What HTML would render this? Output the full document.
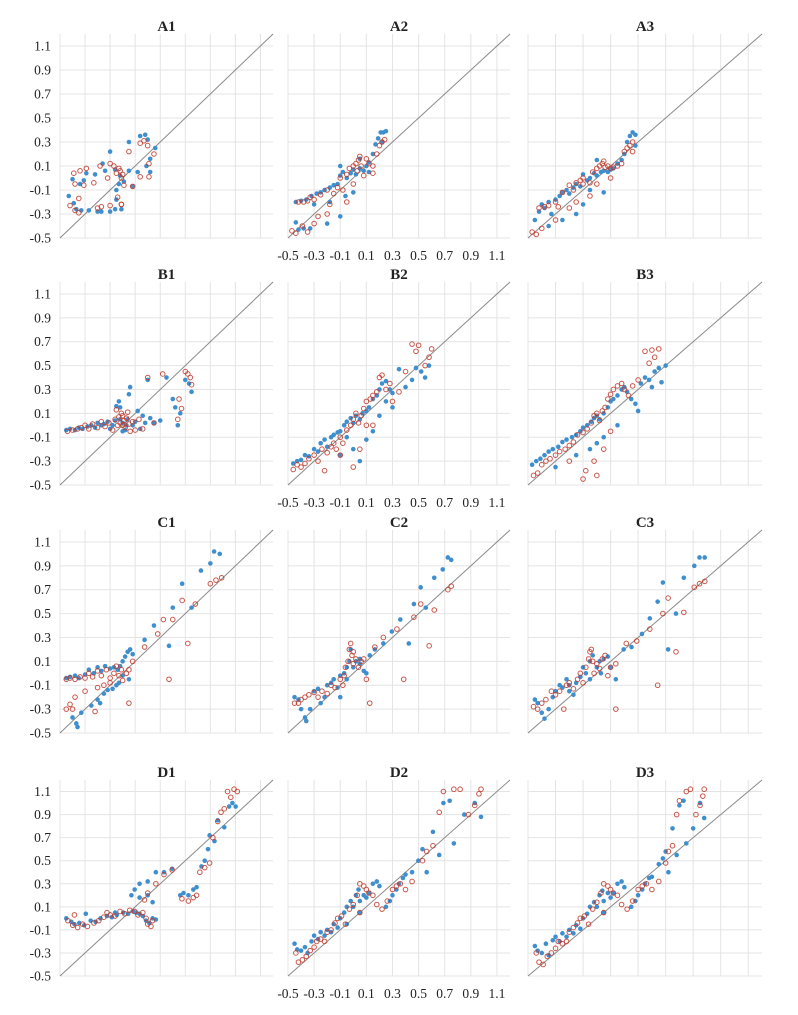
<!DOCTYPE html>
<html><head><meta charset="utf-8"><style>
html,body{margin:0;padding:0;background:#fff;}
svg{display:block;}
text{font-family:"Liberation Serif",serif;fill:#222;}
</style></head><body>
<svg id="chart" width="798" height="1015" viewBox="0 0 798 1015" xmlns="http://www.w3.org/2000/svg"></svg>
<script>
const ticks = [-0.5,-0.3,-0.1,0.1,0.3,0.5,0.7,0.9,1.1];
const tickLabels = ["-0.5","-0.3","-0.1","0.1","0.3","0.5","0.7","0.9","1.1"];
const rowNames = ["A","B","C","D"];
const colNames = ["1","2","3"];

const A1_blue=[[-0.43,-0.15],[-0.39,-0.21],[-0.37,-0.26],[-0.33,-0.27],[-0.27,-0.27],[-0.2,-0.28],[-0.17,-0.28],[-0.1,-0.28],[-0.06,-0.26],[-0.01,-0.26],[-0.1,0.22],[0.05,0.3],[0.14,0.35],[0.18,0.36],[0.2,0.32],[0.26,0.25],[0.22,0.16],[0.19,0.1],[0.22,0.05],[0.12,0.05],[-0.16,0.12],[-0.4,-0.01],[-0.31,-0.02],[-0.22,0.03],[-0.14,0.06],[-0.06,0.07],[-0.05,-0.1],[-0.05,-0.18],[0.05,0.06],[0.08,-0.07],[0.01,-0.03],[-0.29,0.04],[-0.34,-0.05],[-0.02,0.02],[-0.03,-0.05]];
const A1_red=[[-0.42,-0.23],[-0.35,-0.17],[-0.38,-0.27],[-0.35,-0.29],[-0.2,-0.25],[-0.17,-0.24],[-0.1,-0.23],[-0.01,-0.22],[0.05,0.22],[0.14,0.29],[0.17,0.31],[0.2,0.27],[0.25,0.2],[0.21,0.12],[0.21,0.01],[0.14,0.01],[-0.1,0.12],[-0.39,0.04],[-0.34,0.06],[-0.29,0.08],[-0.18,0.1],[-0.07,0.1],[-0.03,0.08],[-0.01,0],[0.01,-0.06],[0.08,-0.07],[-0.31,-0.06],[-0.23,-0.04],[-0.12,0],[-0.04,-0.16],[-0.01,-0.22],[-0.38,-0.05],[-0.05,0.04],[-0.02,0.06],[0.0,0.03]];
const A2_blue=[[-0.44,-0.37],[-0.42,-0.43],[-0.38,-0.42],[-0.33,-0.42],[-0.44,-0.2],[-0.4,-0.19],[-0.36,-0.18],[-0.32,-0.15],[-0.28,-0.13],[-0.25,-0.12],[-0.22,-0.1],[-0.18,-0.08],[-0.15,-0.06],[-0.12,-0.05],[-0.1,0.02],[-0.08,0.05],[-0.05,0.0],[-0.02,0.04],[0.0,0.07],[0.02,0.03],[0.05,0.08],[0.08,0.06],[0.1,0.1],[0.12,0.13],[0.15,0.2],[0.17,0.28],[0.19,0.33],[0.21,0.38],[0.23,0.38],[0.25,0.39],[0.22,0.3],[-0.1,-0.32],[-0.2,-0.38],[-0.18,-0.2],[-0.06,-0.15],[0.0,-0.12],[-0.1,0.1],[0.05,0.16],[0.12,0.05],[-0.3,-0.22]];
const A2_red=[[-0.47,-0.44],[-0.44,-0.46],[-0.39,-0.4],[-0.35,-0.45],[-0.3,-0.38],[-0.27,-0.32],[-0.2,-0.3],[-0.42,-0.2],[-0.38,-0.2],[-0.35,-0.19],[-0.33,-0.16],[-0.3,-0.18],[-0.25,-0.14],[-0.2,-0.1],[-0.15,-0.13],[-0.12,-0.08],[-0.08,-0.1],[-0.05,0.03],[-0.03,0.08],[0.0,0.1],[0.02,0.12],[0.04,0.15],[0.05,0.18],[0.06,0.1],[0.08,0.02],[0.12,0.12],[0.15,0.1],[0.18,0.2],[0.2,0.27],[0.22,0.3],[0.24,0.32],[0.1,0.16],[-0.18,-0.22],[-0.05,-0.2],[0.0,-0.05],[0.03,0.06],[-0.1,0.0],[0.15,0.04]];
const A3_blue=[[-0.45,-0.35],[-0.42,-0.28],[-0.4,-0.22],[-0.38,-0.25],[-0.35,-0.2],[-0.33,-0.3],[-0.3,-0.18],[-0.27,-0.15],[-0.25,-0.12],[-0.22,-0.1],[-0.2,-0.13],[-0.17,-0.08],[-0.15,-0.05],[-0.12,-0.07],[-0.1,0.03],[-0.07,-0.02],[-0.05,0.0],[-0.02,0.04],[0.0,0.02],[0.03,0.05],[0.05,0.06],[0.08,0.05],[0.1,0.07],[0.12,0.08],[0.15,0.12],[0.18,0.15],[0.2,0.2],[0.22,0.3],[0.24,0.35],[0.26,0.38],[0.28,0.36],[0.28,0.27],[-0.15,-0.3],[-0.1,-0.22],[-0.25,-0.35],[-0.35,-0.4],[0.05,-0.12],[-0.05,-0.1],[0.0,0.15]];
const A3_red=[[-0.47,-0.45],[-0.44,-0.47],[-0.4,-0.42],[-0.42,-0.25],[-0.38,-0.24],[-0.35,-0.23],[-0.3,-0.2],[-0.28,-0.24],[-0.25,-0.12],[-0.2,-0.06],[-0.17,-0.1],[-0.15,-0.04],[-0.12,-0.02],[-0.1,0.0],[-0.05,-0.04],[-0.03,0.05],[0.0,0.08],[0.02,0.1],[0.04,0.12],[0.05,0.14],[0.06,0.09],[0.08,0.1],[0.1,0.08],[0.12,0.09],[0.15,0.1],[0.18,0.12],[0.2,0.22],[0.22,0.25],[0.24,0.27],[0.26,0.3],[0.26,0.22],[-0.2,-0.25],[-0.15,-0.2],[-0.05,-0.15],[-0.1,-0.05],[0.0,-0.05],[0.1,0.0],[-0.3,-0.35]];
const B1_blue=[[-0.45,-0.04],[-0.42,-0.03],[-0.38,-0.04],[-0.35,-0.02],[-0.32,-0.03],[-0.28,-0.01],[-0.25,0.0],[-0.22,-0.02],[-0.2,0.02],[-0.17,0.0],[-0.15,0.01],[-0.12,0.03],[-0.1,-0.03],[-0.08,0.0],[-0.06,0.04],[-0.05,0.16],[-0.03,0.2],[-0.02,0.15],[0.0,0.02],[0.02,-0.04],[0.04,0.05],[0.05,0.26],[0.06,0.32],[0.08,0.0],[0.1,0.03],[0.12,0.12],[0.14,-0.03],[0.16,0.08],[0.18,0.02],[0.2,0.38],[0.22,0.06],[0.25,0.02],[0.3,0.04],[0.35,0.4],[0.4,0.22],[0.42,0.15],[0.44,0.0],[0.46,0.1],[0.5,0.38],[0.53,0.35],[0.55,0.28],[0.0,-0.05],[-0.02,0.05],[0.03,0.0]];
const B1_red=[[-0.44,-0.05],[-0.4,-0.04],[-0.36,-0.03],[-0.33,-0.02],[-0.3,0.0],[-0.27,-0.03],[-0.24,0.01],[-0.2,-0.02],[-0.17,0.03],[-0.14,-0.01],[-0.11,0.02],[-0.08,-0.04],[-0.06,0.05],[-0.04,0.0],[-0.03,0.07],[-0.02,0.02],[0.0,0.08],[0.01,0.04],[0.02,-0.02],[0.03,0.06],[0.05,0.01],[0.06,-0.05],[0.08,0.03],[0.1,-0.04],[0.13,0.05],[0.16,-0.03],[0.2,0.4],[0.25,0.02],[0.32,0.43],[0.44,0.05],[0.45,0.22],[0.47,0.14],[0.5,0.45],[0.52,0.43],[0.54,0.4],[0.55,0.34],[0.0,0.0],[-0.01,0.1],[0.04,0.11],[-0.05,0.13]];
const B2_blue=[[-0.46,-0.32],[-0.43,-0.3],[-0.4,-0.29],[-0.37,-0.25],[-0.34,-0.26],[-0.3,-0.2],[-0.27,-0.22],[-0.25,-0.15],[-0.22,-0.12],[-0.2,-0.18],[-0.17,-0.1],[-0.15,-0.08],[-0.12,-0.06],[-0.1,-0.05],[-0.07,0.0],[-0.05,0.03],[-0.02,0.06],[0.0,0.02],[0.02,0.08],[0.05,0.05],[0.07,0.1],[0.1,0.12],[0.12,0.15],[0.15,0.22],[0.18,0.25],[0.2,0.3],[0.22,0.35],[0.25,0.37],[0.28,0.3],[0.3,0.27],[0.1,-0.12],[0.05,-0.3],[0.15,-0.05],[0.2,0.08],[0.25,0.2],[0.3,0.15],[0.4,0.32],[0.45,0.38],[0.48,0.48],[0.52,0.45],[0.55,0.4],[0.58,0.5],[0.0,-0.2],[-0.1,-0.25],[-0.05,-0.1],[0.35,0.47]];
const B2_red=[[-0.46,-0.37],[-0.43,-0.33],[-0.4,-0.35],[-0.37,-0.32],[-0.34,-0.28],[-0.3,-0.25],[-0.27,-0.3],[-0.24,-0.2],[-0.22,-0.38],[-0.2,-0.23],[-0.17,-0.18],[-0.15,-0.15],[-0.13,-0.2],[-0.1,-0.1],[-0.08,-0.15],[-0.05,-0.04],[-0.02,0.0],[0.0,0.05],[0.02,0.1],[0.04,0.02],[0.06,0.08],[0.08,0.14],[0.1,0.2],[0.13,0.22],[0.15,0.25],[0.18,0.28],[0.2,0.4],[0.22,0.42],[0.25,0.3],[0.28,0.35],[0.3,0.2],[0.35,0.28],[0.4,0.45],[0.45,0.68],[0.48,0.62],[0.5,0.67],[0.55,0.5],[0.58,0.57],[0.6,0.64],[0.0,-0.35],[0.05,-0.2],[-0.1,-0.25],[0.15,0.0],[0.1,0.0]];
const B3_blue=[[-0.47,-0.33],[-0.44,-0.3],[-0.41,-0.28],[-0.38,-0.25],[-0.35,-0.22],[-0.32,-0.2],[-0.28,-0.18],[-0.25,-0.14],[-0.22,-0.12],[-0.18,-0.1],[-0.15,-0.08],[-0.12,-0.05],[-0.1,-0.02],[-0.07,0.0],[-0.04,0.03],[-0.02,0.06],[0.0,0.08],[0.02,0.05],[0.05,0.1],[0.08,0.15],[0.1,0.2],[0.12,0.22],[0.15,0.25],[0.18,0.3],[0.2,0.32],[0.22,0.28],[0.25,0.22],[0.28,0.18],[0.3,0.12],[0.32,0.35],[0.35,0.4],[0.38,0.38],[0.42,0.45],[0.45,0.48],[0.5,0.5],[0.47,0.36],[0.4,0.32],[0.05,-0.1],[-0.05,-0.2],[-0.15,-0.25],[0.15,0.0],[-0.3,-0.35],[0.0,-0.15]];
const B3_red=[[-0.46,-0.42],[-0.43,-0.4],[-0.4,-0.33],[-0.37,-0.3],[-0.34,-0.28],[-0.3,-0.25],[-0.27,-0.22],[-0.23,-0.2],[-0.2,-0.17],[-0.17,-0.14],[-0.14,-0.08],[-0.1,-0.06],[-0.07,-0.03],[-0.04,0.02],[-0.02,0.08],[0.0,0.1],[0.02,0.04],[0.04,0.12],[0.06,0.15],[0.08,0.22],[0.1,0.26],[0.12,0.3],[0.15,0.33],[0.18,0.35],[0.2,0.3],[0.23,0.25],[0.26,0.33],[0.3,0.38],[0.35,0.62],[0.4,0.63],[0.45,0.64],[0.42,0.57],[0.38,0.52],[-0.1,-0.45],[-0.08,-0.38],[0.0,-0.42],[-0.02,-0.3],[0.05,-0.2],[0.1,-0.05],[-0.2,-0.3]];
const C1_blue=[[-0.45,-0.04],[-0.42,-0.03],[-0.38,-0.02],[-0.35,-0.04],[-0.3,-0.01],[-0.27,0.03],[-0.23,0.0],[-0.2,0.05],[-0.17,0.02],[-0.14,0.06],[-0.1,0.04],[-0.07,0.05],[-0.04,0.03],[-0.02,0.06],[0.0,0.1],[0.02,0.14],[0.04,0.18],[0.06,0.2],[-0.4,-0.37],[-0.37,-0.42],[-0.36,-0.45],[-0.33,-0.33],[-0.25,-0.27],[-0.2,-0.22],[-0.18,-0.25],[-0.15,-0.17],[-0.12,-0.14],[-0.08,-0.13],[-0.05,-0.1],[0.05,-0.05],[0.08,0.16],[0.175,0.28],[0.25,0.4],[0.4,0.55],[0.475,0.75],[0.55,0.55],[0.625,0.86],[0.7,0.92],[0.73,1.02],[0.775,1.0],[0.37,0.23],[0.0,-0.02],[-0.03,-0.08]];
const C1_red=[[-0.45,-0.05],[-0.42,-0.04],[-0.38,-0.05],[-0.34,-0.03],[-0.3,-0.04],[-0.27,0.0],[-0.24,-0.03],[-0.2,0.02],[-0.17,-0.02],[-0.13,0.03],[-0.1,-0.04],[-0.07,0.0],[-0.05,0.06],[-0.03,-0.02],[-0.01,0.03],[0.0,-0.06],[0.03,0.0],[0.05,0.03],[0.08,0.1],[-0.45,-0.3],[-0.42,-0.26],[-0.4,-0.3],[-0.38,-0.2],[-0.3,-0.15],[-0.22,-0.32],[-0.2,-0.12],[-0.15,-0.1],[-0.1,-0.08],[0.05,-0.25],[0.175,0.22],[0.28,0.33],[0.37,-0.05],[0.4,0.45],[0.475,0.61],[0.52,0.25],[0.58,0.58],[0.7,0.75],[0.745,0.78],[0.79,0.8],[0.325,0.45]];
const C2_blue=[[-0.45,-0.2],[-0.42,-0.22],[-0.4,-0.3],[-0.37,-0.37],[-0.36,-0.4],[-0.33,-0.3],[-0.3,-0.15],[-0.27,-0.13],[-0.25,-0.25],[-0.22,-0.2],[-0.2,-0.1],[-0.17,-0.08],[-0.15,-0.05],[-0.12,-0.12],[-0.1,-0.02],[-0.07,0.0],[-0.05,0.05],[-0.03,0.1],[-0.02,0.2],[0.0,0.05],[0.02,0.1],[0.05,0.08],[0.08,0.02],[0.1,0.0],[0.126,0.15],[0.165,0.2],[0.23,0.25],[0.295,0.35],[0.36,0.45],[0.425,0.25],[0.464,0.58],[0.516,0.72],[0.555,0.55],[0.62,0.8],[0.685,0.87],[0.724,0.97],[0.75,0.95],[-0.1,-0.2],[-0.05,-0.05],[0.05,0.12]];
const C2_red=[[-0.45,-0.25],[-0.42,-0.25],[-0.4,-0.22],[-0.37,-0.2],[-0.34,-0.18],[-0.3,-0.16],[-0.27,-0.2],[-0.24,-0.15],[-0.2,-0.17],[-0.17,-0.1],[-0.14,-0.12],[-0.1,-0.05],[-0.08,-0.1],[-0.06,0.05],[-0.04,0.1],[-0.03,0.2],[-0.02,0.25],[-0.01,0.15],[0.0,0.08],[0.02,0.12],[0.04,0.05],[0.06,0.1],[0.08,0.12],[0.1,-0.05],[0.126,-0.25],[0.165,0.22],[0.23,0.3],[0.334,0.37],[0.386,-0.05],[0.464,0.47],[0.516,0.58],[0.581,0.23],[0.62,0.53],[0.724,0.7],[0.75,0.73],[-0.07,-0.02],[0.0,0.18]];
const C3_blue=[[-0.45,-0.22],[-0.43,-0.25],[-0.4,-0.33],[-0.38,-0.38],[-0.35,-0.3],[-0.32,-0.2],[-0.3,-0.15],[-0.27,-0.1],[-0.25,-0.12],[-0.22,-0.05],[-0.2,-0.15],[-0.17,-0.18],[-0.15,-0.08],[-0.12,-0.03],[-0.1,0.05],[-0.08,0.0],[-0.05,0.1],[-0.03,0.15],[0.0,0.05],[0.02,0.1],[0.05,0.12],[0.08,0.14],[0.1,0.05],[0.138,-0.05],[0.195,0.2],[0.252,0.22],[0.328,0.33],[0.385,0.46],[0.442,0.6],[0.48,0.76],[0.518,0.2],[0.575,0.5],[0.632,0.8],[0.708,0.9],[0.746,0.97],[0.784,0.97],[-0.2,-0.1],[-0.05,-0.05],[0.03,0.0]];
const C3_red=[[-0.46,-0.28],[-0.43,-0.3],[-0.4,-0.25],[-0.37,-0.22],[-0.33,-0.15],[-0.3,-0.18],[-0.27,-0.15],[-0.24,-0.3],[-0.22,-0.1],[-0.2,-0.08],[-0.17,-0.13],[-0.14,-0.05],[-0.12,0.0],[-0.1,-0.08],[-0.08,0.05],[-0.06,0.12],[-0.05,0.18],[-0.04,0.2],[-0.03,0.1],[0.0,0.08],[0.02,0.04],[0.04,0.12],[0.06,0.15],[0.08,-0.02],[0.1,0.05],[0.138,0.08],[0.138,-0.3],[0.214,0.25],[0.29,0.27],[0.385,0.37],[0.442,-0.1],[0.48,0.5],[0.518,0.63],[0.575,0.18],[0.632,0.51],[0.708,0.72],[0.746,0.75],[0.784,0.77],[-0.02,0.0]];
const D1_blue=[[-0.45,0.0],[-0.41,-0.03],[-0.385,-0.05],[-0.346,-0.04],[-0.307,-0.06],[-0.255,-0.02],[-0.216,-0.03],[-0.177,0.0],[-0.125,0.02],[-0.086,0.01],[-0.047,0.03],[0.005,0.05],[0.044,0.04],[0.083,0.06],[0.109,0.05],[0.135,0.04],[0.161,0.02],[0.187,-0.02],[0.213,-0.04],[0.239,0.0],[0.265,-0.01],[0.07,0.2],[0.096,0.25],[0.135,0.3],[0.135,0.18],[0.2,0.2],[0.2,0.32],[0.265,0.4],[0.33,0.4],[0.395,0.43],[0.46,0.2],[0.486,0.22],[0.525,0.2],[0.564,0.25],[0.59,0.27],[0.629,0.45],[0.655,0.5],[0.681,0.6],[0.694,0.72],[0.733,0.67],[0.759,0.85],[0.811,0.79],[0.85,0.97],[0.876,1.0],[0.902,0.97],[0.239,0.14],[-0.06,0.05],[-0.294,0.04]];
const D1_red=[[-0.437,-0.02],[-0.398,-0.06],[-0.359,-0.08],[-0.32,-0.05],[-0.281,-0.07],[-0.229,-0.04],[-0.19,-0.02],[-0.151,0.01],[-0.099,0.03],[-0.06,0.02],[-0.021,0.06],[0.018,0.04],[0.057,0.07],[0.096,0.06],[0.122,0.03],[0.161,0.05],[0.187,0.0],[0.2,-0.05],[0.226,-0.07],[0.239,-0.02],[0.174,0.16],[0.2,0.22],[0.265,0.3],[0.33,0.38],[0.395,0.42],[0.473,0.17],[0.525,0.15],[0.564,0.18],[0.59,0.2],[0.616,0.4],[0.655,0.44],[0.694,0.48],[0.72,0.7],[0.759,0.84],[0.785,0.92],[0.811,0.95],[0.837,1.1],[0.863,1.05],[0.889,1.12],[0.915,1.1],[-0.125,0.05],[-0.385,0.03]];
const D2_blue=[[-0.45,-0.22],[-0.43,-0.27],[-0.4,-0.28],[-0.37,-0.25],[-0.35,-0.3],[-0.32,-0.2],[-0.3,-0.15],[-0.27,-0.18],[-0.25,-0.12],[-0.22,-0.15],[-0.2,-0.1],[-0.17,-0.12],[-0.15,-0.05],[-0.12,-0.08],[-0.1,0.0],[-0.07,0.05],[-0.05,0.1],[-0.02,0.15],[0.0,0.1],[0.02,0.2],[0.04,0.25],[0.05,0.15],[0.08,0.2],[0.1,0.18],[0.12,0.22],[0.15,0.3],[0.18,0.32],[0.2,0.28],[0.25,0.1],[0.28,0.15],[0.3,0.2],[0.33,0.25],[0.35,0.3],[0.38,0.35],[0.4,0.38],[0.45,0.4],[0.498,0.5],[0.53,0.6],[0.562,0.4],[0.61,0.75],[0.658,0.55],[0.69,1.0],[0.738,1.02],[0.77,0.65],[0.85,0.9],[0.93,1.0],[0.978,0.88],[0.05,0.05],[-0.05,-0.05]];
const D2_red=[[-0.44,-0.3],[-0.42,-0.38],[-0.39,-0.36],[-0.36,-0.33],[-0.33,-0.28],[-0.3,-0.25],[-0.28,-0.2],[-0.25,-0.18],[-0.22,-0.2],[-0.2,-0.12],[-0.17,-0.1],[-0.14,-0.04],[-0.12,0.0],[-0.09,0.02],[-0.06,-0.05],[-0.03,0.08],[0.0,0.12],[0.03,0.2],[0.05,0.3],[0.08,0.28],[0.1,0.25],[0.12,0.22],[0.15,0.2],[0.18,0.12],[0.22,0.08],[0.26,0.15],[0.3,0.25],[0.33,0.28],[0.36,0.3],[0.4,0.25],[0.45,0.32],[0.53,0.5],[0.562,0.58],[0.61,0.63],[0.658,0.92],[0.69,1.1],[0.77,1.12],[0.818,1.12],[0.882,0.9],[0.93,0.98],[0.962,1.08],[0.978,1.12],[0.05,0.05]];
const D3_blue=[[-0.45,-0.24],[-0.43,-0.28],[-0.4,-0.3],[-0.37,-0.22],[-0.35,-0.32],[-0.32,-0.19],[-0.3,-0.16],[-0.27,-0.2],[-0.25,-0.13],[-0.22,-0.16],[-0.2,-0.1],[-0.17,-0.13],[-0.15,-0.06],[-0.12,-0.09],[-0.1,0.0],[-0.07,0.04],[-0.05,0.1],[-0.02,0.14],[0.0,0.1],[0.02,0.2],[0.04,0.24],[0.05,0.15],[0.08,0.22],[0.1,0.18],[0.12,0.22],[0.15,0.3],[0.18,0.32],[0.2,0.27],[0.25,0.1],[0.28,0.15],[0.3,0.2],[0.33,0.25],[0.35,0.3],[0.38,0.35],[0.4,0.36],[0.45,0.47],[0.48,0.52],[0.5,0.58],[0.52,0.4],[0.55,0.78],[0.58,0.55],[0.6,0.98],[0.63,1.02],[0.65,0.65],[0.7,0.78],[0.75,1.0],[0.78,0.87],[0.05,0.05]];
const D3_red=[[-0.44,-0.3],[-0.42,-0.38],[-0.39,-0.4],[-0.36,-0.33],[-0.33,-0.3],[-0.3,-0.26],[-0.28,-0.2],[-0.25,-0.22],[-0.22,-0.2],[-0.2,-0.12],[-0.17,-0.08],[-0.14,-0.04],[-0.12,0.0],[-0.09,0.02],[-0.06,-0.05],[-0.03,0.08],[0.0,0.14],[0.03,0.22],[0.05,0.3],[0.08,0.28],[0.1,0.25],[0.12,0.22],[0.15,0.2],[0.18,0.12],[0.22,0.08],[0.26,0.15],[0.3,0.25],[0.33,0.28],[0.36,0.3],[0.4,0.25],[0.45,0.32],[0.5,0.48],[0.52,0.58],[0.55,0.63],[0.58,0.9],[0.6,1.02],[0.65,1.1],[0.68,1.12],[0.72,0.9],[0.75,0.98],[0.77,1.06],[0.78,1.12],[0.05,0.05]];

const blueSeries=[[A1_blue,A2_blue,A3_blue],[B1_blue,B2_blue,B3_blue],[C1_blue,C2_blue,C3_blue],[D1_blue,D2_blue,D3_blue]];
const redSeries=[[A1_red,A2_red,A3_red],[B1_red,B2_red,B3_red],[C1_red,C2_red,C3_red],[D1_red,D2_red,D3_red]];

const NS="http://www.w3.org/2000/svg";
const svg=document.getElementById('chart');
const colGeom=[[60,273],[288,510],[528,762]];
const rowGeom=[[34,238],[282,485],[530,733],[780,976]];
const xLabelRows=[0,1,3];
const DMIN=-0.5, DMAX=1.2;
function mk(tag,attrs,parent){const e=document.createElementNS(NS,tag);for(const k in attrs)e.setAttribute(k,attrs[k]);(parent||svg).appendChild(e);return e;}
function xScale(c,v){const [a,b]=colGeom[c];return a+(v-DMIN)/(DMAX-DMIN)*(b-a);}
function yScale(r,v){const [t,b]=rowGeom[r];return b-(v-DMIN)/(DMAX-DMIN)*(b-t);}

for(let r=0;r<4;r++){
  for(let c=0;c<3;c++){
    const name=rowNames[r]+colNames[c];
    const g=mk('g',{});
    
    
    const [x0,x1]=colGeom[c],[y0,y1]=rowGeom[r];
    const grid=mk('g',{},g);
    
    
    ticks.forEach(t=>{
      mk('line',{x1:x0,x2:x1,y1:yScale(r,t),y2:yScale(r,t),stroke:'#e4e4e4','stroke-width':1},grid);
      mk('line',{x1:xScale(c,t),x2:xScale(c,t),y1:y0,y2:y1,stroke:'#e4e4e4','stroke-width':1},grid);
    });
    const d=mk('line',{x1:xScale(c,DMIN),y1:yScale(r,DMIN),x2:xScale(c,DMAX),y2:yScale(r,DMAX),stroke:'#8a8a8a','stroke-width':1},g);
    
    
    const t=mk('text',{x:(x0+x1)/2,y:y0-3,'text-anchor':'middle','font-size':'15','font-weight':'bold'},g);
    t.textContent=name;
    
    
    if(c===0){
      ticks.forEach((tv,i)=>{
        const l=mk('text',{x:51,y:yScale(r,tv)+4.5,'text-anchor':'end','font-size':'13.5'},g);
        l.textContent=tickLabels[i];
        
        
      });
    }
    if(c===1 && xLabelRows.includes(r)){
      ticks.forEach((tv,i)=>{
        const l=mk('text',{x:xScale(c,tv),y:y1+22,'text-anchor':'middle','font-size':'13.5'},g);
        l.textContent=tickLabels[i];
        
        
      });
    }
    blueSeries[r][c].forEach(p=>{
      const e=mk('circle',{cx:xScale(c,p[0]),cy:yScale(r,p[1]),r:2.3,fill:'#3f8fce'},g);
      
      
    });
    redSeries[r][c].forEach(p=>{
      const e=mk('circle',{cx:xScale(c,p[0]),cy:yScale(r,p[1]),r:2.3,fill:'none',stroke:'#c0392b','stroke-width':1,'stroke-opacity':0.85},g);
      
      
    });
  }
}
</script>
</body></html>
